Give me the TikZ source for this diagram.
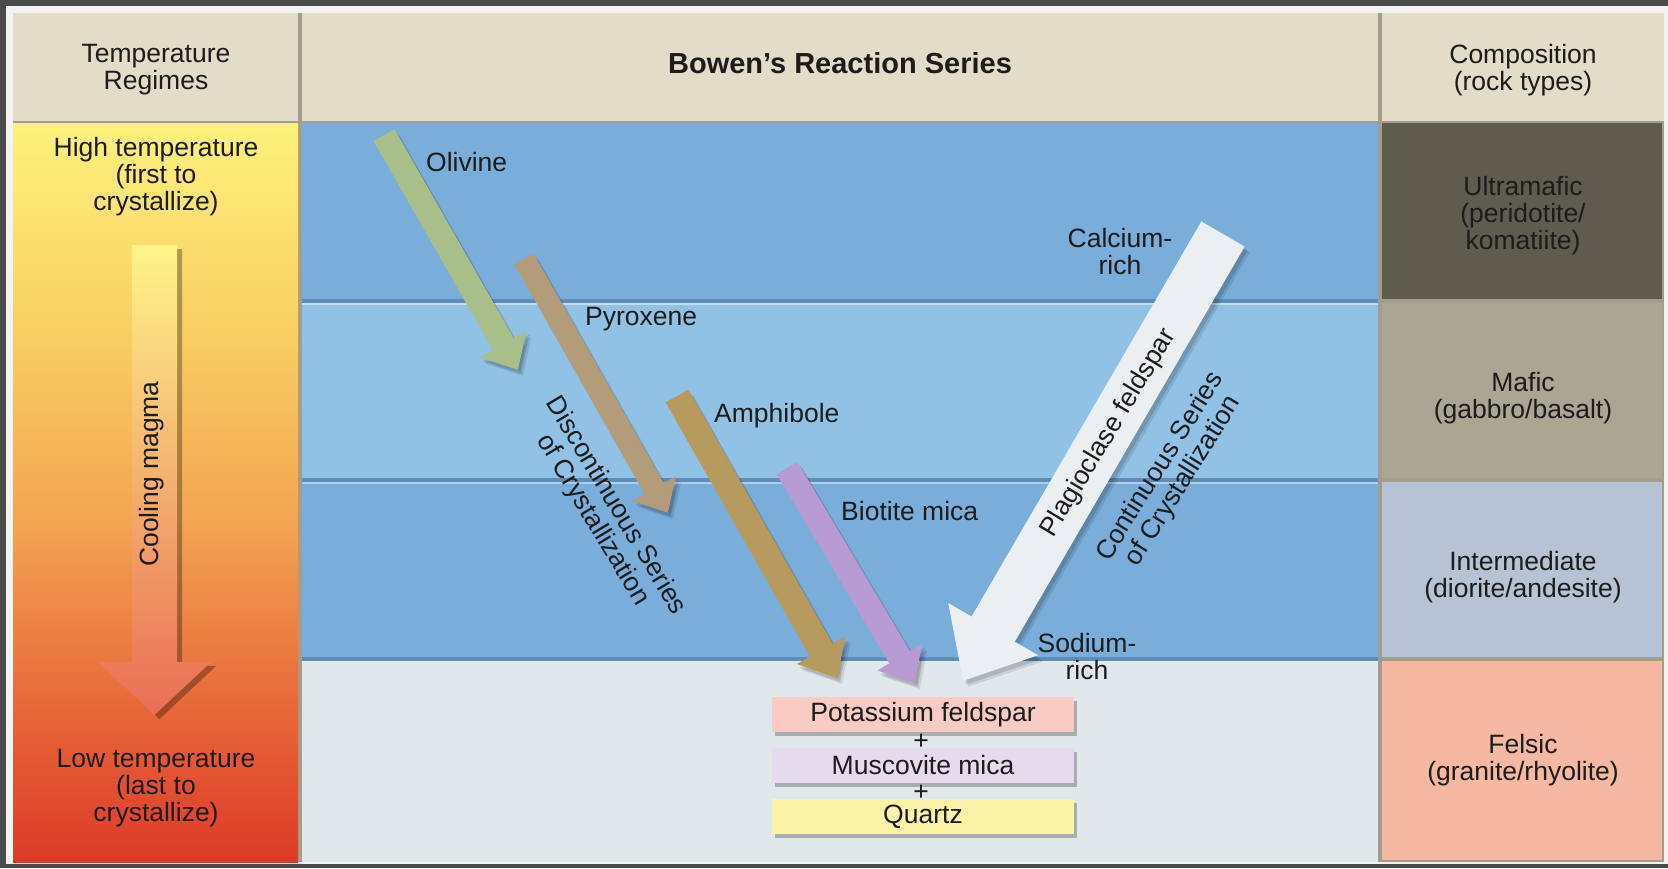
\documentclass[tikz,border=0pt]{standalone}
\usepackage{fontspec}
\setmainfont{Liberation Sans}
\usetikzlibrary{arrows.meta}
\definecolor{framec}{HTML}{4A4A4A}
\definecolor{panelc}{HTML}{F3F3F1}
\definecolor{sepc}{HTML}{A29D8D}
\definecolor{headc}{HTML}{E3DCC9}
\definecolor{bsep}{HTML}{5E8DBA}
\definecolor{bandA}{HTML}{7BADDA}
\definecolor{bandB}{HTML}{91C1E5}
\definecolor{bottomc}{HTML}{E1E8EC}
\definecolor{ultrac}{HTML}{5D5C4F}
\definecolor{maficc}{HTML}{ABA594}
\definecolor{interc}{HTML}{B5C3D4}
\definecolor{felsicc}{HTML}{F4B8A3}
\definecolor{tA}{HTML}{FDF27B}
\definecolor{tB}{HTML}{F8CF63}
\definecolor{tC}{HTML}{F3A552}
\definecolor{tD}{HTML}{E86A3A}
\definecolor{tE}{HTML}{DD3A27}
\definecolor{coolA}{HTML}{FEF58A}
\definecolor{coolB}{HTML}{EA6D55}
\definecolor{olivc}{HTML}{A8BF8C}
\definecolor{pyroc}{HTML}{B39C7A}
\definecolor{amphc}{HTML}{B79B5E}
\definecolor{bioc}{HTML}{B99BD3}
\definecolor{plagc}{HTML}{ECEFF1}
\definecolor{kfc}{HTML}{F8CBC4}
\definecolor{musc}{HTML}{E5DAEE}
\definecolor{qzc}{HTML}{FBF4A6}
\definecolor{txt}{HTML}{1C1C1C}
\begin{document}
\begin{tikzpicture}[x=1pt,y=-1pt,
  lbl/.style={text=txt,font=\fontsize{26.5}{27}\selectfont,inner sep=0pt,align=center},
  mlbl/.style={lbl,anchor=west},
  mbox/.style={lbl,minimum width=302pt,minimum height=35pt},
  marrow/.style n args={3}{line width=#1,-{Triangle[length=#3,width=#2]}},
  ashadow/.style={draw=black,opacity=0.13,transform canvas={shift={(3,4)}}},
  ashadowb/.style={draw=black,opacity=0.1,transform canvas={shift={(5,6)}}},
]
\useasboundingbox (0,0) rectangle (1668,868);
\fill[framec] (0,0) rectangle (1668,868);
\fill[panelc] (6,6) rectangle (1668,864);
\fill[sepc] (13,13) rectangle (1664,862);
% header row
\fill[headc] (13,13) rectangle (298,121);
\fill[headc] (302,13) rectangle (1378,121);
\fill[headc] (1382,13) rectangle (1664,121);
% left temperature column
\shade[top color=tA,bottom color=tB] (13,123) rectangle (298,331);
\shade[top color=tB,bottom color=tC] (13,330) rectangle (298,521);
\shade[top color=tC,bottom color=tD] (13,520) rectangle (298,701);
\shade[top color=tD,bottom color=tE] (13,700) rectangle (298,862);
% middle bands
\fill[bsep] (302,123) rectangle (1378,862);
\fill[bandA] (302,123) rectangle (1378,299);
\fill[bandB] (302,303) rectangle (1378,478);
\fill[bandA] (302,482) rectangle (1378,657);
\fill[bottomc] (302,661) rectangle (1378,862);
\fill[bandB!55!white] (302,303) rectangle (1378,305);
\fill[bandA!60!white] (302,482) rectangle (1378,484);
% right composition column
\fill[ultrac] (1382,123) rectangle (1662,299);
\fill[maficc] (1382,303) rectangle (1662,478);
\fill[interc] (1382,482) rectangle (1662,657);
\fill[felsicc] (1382,661) rectangle (1662,860);
% cooling magma arrow
\fill[black,opacity=0.3] (137,249) -- (182,249) -- (182,666) -- (216,666) -- (159.5,719) -- (103,666) -- (137,666) -- cycle;
\shade[top color=coolA,bottom color=coolB] (132,245) -- (177,245) -- (177,662) -- (211,662) -- (154.5,715) -- (98,662) -- (132,662) -- cycle;
\node[lbl,rotate=90] (cool) at (152,474) {Cooling magma};
% header texts
\node[lbl] (tr) at (156,70) {Temperature\\Regimes};
\node[lbl,font=\fontsize{29}{30}\selectfont\bfseries] (title) at (840,63) {Bowen's Reaction Series};
\node[lbl] (comp) at (1523,70) {Composition\\(rock types)};
\node[lbl] (hi) at (156,177) {High temperature\\(first to\\crystallize)};
\node[lbl] (lo) at (156,788) {Low temperature\\(last to\\crystallize)};
\node[lbl] (um) at (1523,216) {Ultramafic\\(peridotite/\\komatiite)};
\node[lbl] (maf) at (1523,398) {Mafic\\(gabbro/basalt)};
\node[lbl] (int) at (1523,577) {Intermediate\\(diorite/andesite)};
\node[lbl] (fel) at (1523,760) {Felsic\\(granite/rhyolite)};
% mineral arrows
\coordinate (olT) at (384,135); \coordinate (olH) at (518,370);
\coordinate (pyT) at (524,259); \coordinate (pyH) at (668,513);
\coordinate (amT) at (677,396); \coordinate (amH) at (837,678);
\coordinate (biT) at (787,468); \coordinate (biH) at (915,683);
\coordinate (plT) at (1223,234); \coordinate (plH) at (963,681);
\foreach \s in {ashadowb,ashadow}{
  \draw[marrow={24pt}{52pt}{30pt},\s] (olT) -- (olH);
  \draw[marrow={22pt}{48pt}{28pt},\s] (pyT) -- (pyH);
  \draw[marrow={26pt}{54pt}{32pt},\s] (amT) -- (amH);
  \draw[marrow={24pt}{50pt}{30pt},\s] (biT) -- (biH);
}
\draw[marrow={24pt}{52pt}{30pt},draw=olivc] (olT) -- (olH);
\draw[marrow={22pt}{48pt}{28pt},draw=pyroc] (pyT) -- (pyH);
\draw[marrow={26pt}{54pt}{32pt},draw=amphc] (amT) -- (amH);
\draw[marrow={24pt}{50pt}{30pt},draw=bioc] (biT) -- (biH);
\draw[marrow={50pt}{100pt}{60pt},ashadowb] (plT) -- (plH);
\draw[marrow={50pt}{100pt}{60pt},ashadow] (plT) -- (plH);
\draw[marrow={50pt}{100pt}{60pt},draw=plagc] (plT) -- (plH);
% mineral labels
\node[mlbl] (olL) at (426,162) {Olivine};
\node[mlbl] (pyL) at (585,319) {Pyroxene};
\node[mlbl] (amL) at (714,416) {Amphibole};
\node[mlbl] (biL) at (841,511) {Biotite mica};
\node[lbl] (caL) at (1120,252) {Calcium-\\rich};
\node[lbl] (naL) at (1087,657) {Sodium-\\rich};
\node[lbl,rotate=-59] (disc) at (604,513) {Discontinuous Series\\of Crystallization};
\node[lbl,rotate=59] (plL) at (1109,433) {Plagioclase feldspar};
\node[lbl,rotate=58] (cont) at (1172,474) {Continuous Series\\of Crystallization};
% final products
\fill[black,opacity=0.25] (775,701) rectangle (1077,736);
\fill[black,opacity=0.25] (775,752) rectangle (1077,787);
\fill[black,opacity=0.25] (775,803) rectangle (1077,838);
\node[mbox,fill=kfc] (kf) at (923,714.5) {Potassium feldspar};
\node[mbox,fill=musc] (mu) at (923,765.5) {Muscovite mica};
\node[mbox,fill=qzc] (qz) at (923,816.5) {Quartz};
\node[lbl] (p1) at (921,742) {+};
\node[lbl] (p2) at (921,793) {+};
\end{tikzpicture}
\end{document}
